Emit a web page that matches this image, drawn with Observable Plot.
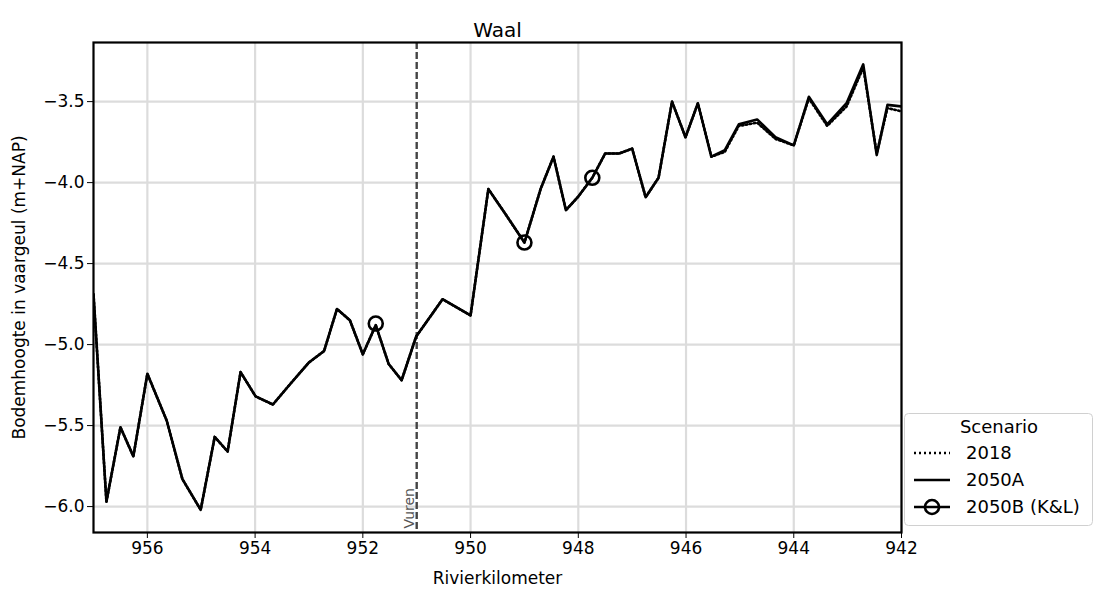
<!DOCTYPE html>
<html>
<head>
<meta charset="utf-8">
<script src="https://cdn.jsdelivr.net/npm/d3@7"></script>
<script src="https://cdn.jsdelivr.net/npm/@observablehq/plot@0.6"></script>
<style>
  body { margin: 0; background: #fff; font-family: "DejaVu Sans", sans-serif; color: #000; }
  #wrap { position: relative; width: 1096px; height: 590px; }
  #legend { position: absolute; left: 0; top: 0; }
</style>
</head>
<body>
<div id="wrap"></div>
<script>
// ---- Data ----
const km = [957.0, 956.76, 956.5, 956.26, 956.0, 955.64, 955.35, 955.01, 954.75, 954.51,
            954.27, 953.99, 953.67, 953.34, 953.0, 952.72, 952.48, 952.24, 952.0, 951.76,
            951.52, 951.28, 951.01, 950.52, 950.0, 949.67, 949.34, 949.0, 948.7, 948.46,
            948.23, 948.01, 947.74, 947.5, 947.24, 947.0, 946.75, 946.51, 946.26, 946.01,
            945.78, 945.53, 945.28, 945.02, 944.68, 944.34, 944.0, 943.72, 943.38, 943.02,
            942.71, 942.46, 942.26, 942.0];
const elev2050A = [-4.69, -5.97, -5.51, -5.69, -5.18, -5.47, -5.83, -6.02, -5.57, -5.66,
                   -5.17, -5.32, -5.37, -5.24, -5.11, -5.04, -4.78, -4.85, -5.06, -4.88,
                   -5.12, -5.22, -4.95, -4.72, -4.82, -4.04, -4.20, -4.37, -4.04, -3.84,
                   -4.17, -4.09, -3.97, -3.82, -3.82, -3.79, -4.09, -3.97, -3.50, -3.72,
                   -3.51, -3.84, -3.80, -3.64, -3.61, -3.72, -3.77, -3.47, -3.64, -3.51,
                   -3.27, -3.83, -3.52, -3.53];
const elev2018 = [-4.69, -5.97, -5.51, -5.69, -5.18, -5.47, -5.83, -6.02, -5.57, -5.66,
                  -5.17, -5.32, -5.37, -5.24, -5.11, -5.04, -4.78, -4.85, -5.06, -4.88,
                  -5.12, -5.22, -4.95, -4.72, -4.82, -4.04, -4.20, -4.37, -4.04, -3.84,
                  -4.17, -4.09, -3.97, -3.82, -3.82, -3.79, -4.09, -3.97, -3.50, -3.72,
                  -3.51, -3.84, -3.81, -3.65, -3.63, -3.73, -3.77, -3.48, -3.65, -3.53,
                  -3.29, -3.82, -3.54, -3.56];
const kmB = [951.76, 949.0, 947.74];
const elev2050B = [-4.87, -4.37, -3.97];
const xTicks = [956, 954, 952, 950, 948, 946, 944, 942];
const yTicks = [-6.0, -5.5, -5.0, -4.5, -4.0, -3.5];
const markerKm = [951.0];
const markerLabel = ["Vuren"];
const scenarios = ["2018", "2050A", "2050B (K&L)"];

const rowsA = km.map((k, i) => ({km: k, z: elev2050A[i]}));
const rows18 = km.map((k, i) => ({km: k, z: elev2018[i]}));
const rowsB = kmB.map((k, i) => ({km: k, z: elev2050B[i]}));
const fmtY = d3.format(".1f");

const chart = Plot.plot({
  width: 1096,
  height: 590,
  marginLeft: 93,
  marginRight: 195,
  marginTop: 42,
  marginBottom: 58,
  style: {fontFamily: "DejaVu Sans, sans-serif", fontSize: "17px", color: "#000", background: "#fff"},
  x: {domain: [957, 942]},
  y: {domain: [-6.16, -3.135]},
  marks: [
    Plot.gridX(xTicks, {stroke: "#dcdcdc", strokeOpacity: 1, strokeWidth: 2.2}),
    Plot.gridY(yTicks, {stroke: "#dcdcdc", strokeOpacity: 1, strokeWidth: 2.2}),
    Plot.ruleX(markerKm, {stroke: "#444", strokeWidth: 2.4, strokeDasharray: "7,3"}),
    Plot.text(markerLabel, {x: markerKm, frameAnchor: "bottom", rotate: -90, textAnchor: "start",
      lineAnchor: "bottom", dx: -3, dy: -4, fontSize: 14, fill: "#555"}),
    Plot.line(rows18, {x: "km", y: "z", stroke: "#000", strokeWidth: 2.6, strokeDasharray: "1.5,2.5", clip: true}),
    Plot.line(rowsA, {x: "km", y: "z", stroke: "#000", strokeWidth: 2.6, clip: true}),
    Plot.dot(rowsB, {x: "km", y: "z", r: 7, stroke: "#000", strokeWidth: 2.6, fill: "none"}),
    Plot.axisX(xTicks, {tickSize: 6, tickPadding: 3, fontSize: 17, tickFormat: d => String(d),
      label: "Rivierkilometer", labelAnchor: "center", labelArrow: "none", labelOffset: 51}),
    Plot.axisY(yTicks, {tickSize: 6, tickPadding: 3, fontSize: 17, tickFormat: fmtY,
      label: "Bodemhoogte in vaargeul (m+NAP)", labelAnchor: "center", labelArrow: "none", labelOffset: 81}),
    Plot.frame({stroke: "#000", strokeWidth: 2.2}),
    Plot.text(["Waal"], {frameAnchor: "top", dy: -20, fontSize: 20})
  ]
});
document.getElementById("wrap").appendChild(chart);

// ---- Legend ----
const leg = d3.select("#wrap").append("svg").attr("id", "legend")
  .attr("width", 1096).attr("height", 590)
  .style("font-family", "DejaVu Sans, sans-serif").style("font-size", "18px");
const lx = 904, ly = 413, lw = 188, lh = 112;
leg.append("rect").attr("x", lx + 0.5).attr("y", ly + 0.5).attr("width", lw).attr("height", lh)
  .attr("rx", 4).attr("fill", "#fff").attr("fill-opacity", 0.8).attr("stroke", "#d0d0d0");
leg.append("text").attr("x", 999).attr("y", 427).attr("dy", "0.35em")
  .attr("text-anchor", "middle").text("Scenario");
const styles = [
  {dash: "2,3", marker: false},
  {dash: null, marker: false},
  {dash: null, marker: true}
];
scenarios.forEach((s, i) => {
  const yy = 453 + i * 27;
  const ln = leg.append("line").attr("x1", 914).attr("x2", 950).attr("y1", yy).attr("y2", yy)
    .attr("stroke", "#000").attr("stroke-width", 2.6);
  if (styles[i].dash) ln.attr("stroke-dasharray", styles[i].dash);
  if (styles[i].marker) leg.append("circle").attr("cx", 932).attr("cy", yy).attr("r", 7)
    .attr("fill", "none").attr("stroke", "#000").attr("stroke-width", 2.6);
  leg.append("text").attr("x", 966).attr("y", yy).attr("dy", "0.35em").text(s);
});
</script>
</body>
</html>
